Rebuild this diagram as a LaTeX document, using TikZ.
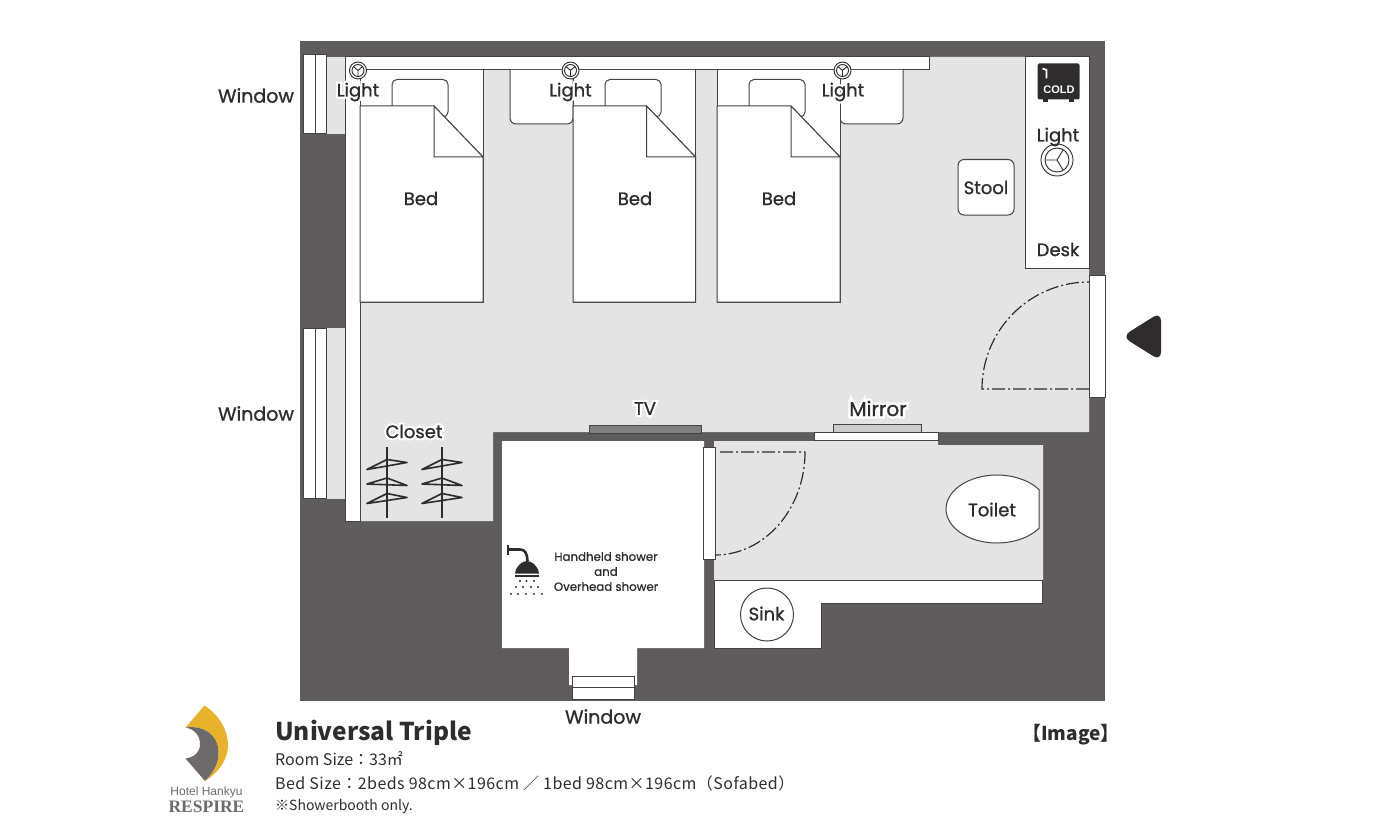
\documentclass[tikz,border=0pt]{standalone}
\usepackage{fontspec}
\setmainfont{Poppins}
\newfontfamily\jpfont{Noto Sans CJK JP}
\newfontfamily\jpwidefont[LetterSpace=2.8]{Noto Sans CJK JP}
\newfontfamily\coldfont{Liberation Sans}
\newfontfamily\logofont{Liberation Serif}
\usetikzlibrary{calc}
\definecolor{wallc}{HTML}{5E5C5D}
\definecolor{floorc}{HTML}{E4E4E4}
\definecolor{inkc}{HTML}{2F2C2D}
\definecolor{linec}{HTML}{444243}
\definecolor{sunc}{HTML}{E8B32B}
\definecolor{logoc}{HTML}{6C6A6B}
\def\halotext#1{\makebox[0pt][l]{\addfontfeature{FakeBold=25}\color{white}#1}#1}
\tikzset{
	plan/.style={draw=linec, line width=1pt, fill=white},
	swing/.style={draw=inkc, line width=1.2pt, dash pattern=on 13pt off 3pt on 2pt off 3pt},
	roomlabel/.style={inner sep=0pt, text=inkc, font=\fontsize{18}{18}\selectfont\addfontfeature{FakeBold=1}},
	lamp/.style={draw=inkc, line width=0.9pt},
	hangerbar/.style={draw=inkc, line width=2.4pt},
	hangerwire/.style={draw=inkc, line width=1.6pt, line join=round},
	infotext/.style={inner sep=0pt, anchor=west, text=inkc},
}
\begin{document}
\begin{tikzpicture}[x=1pt, y=-1pt]
	\useasboundingbox (0, 0) rectangle (1400, 840);

	%%%%% WALLS AND FLOOR %%%%%
	\fill[wallc] (300, 41) rectangle (1105, 701);
	\fill[floorc] (345, 57) -- (1089, 57) -- (1089, 432) -- (493, 432) -- (493, 521) -- (345, 521) -- cycle;
	\fill[floorc] (714, 441) -- (938, 441) -- (938, 445) -- (1043, 445) -- (1043, 580) -- (714, 580) -- cycle;
	\fill[floorc] (327, 57) rectangle (345, 134);
	\fill[floorc] (327, 328) rectangle (345, 499);

	\fill[white] (502, 441) -- (704, 441) -- (704, 648) -- (637, 648) -- (637, 685) -- (569, 685) -- (569, 648) -- (502, 648) -- cycle;

	\draw[plan] (714, 580) -- (1042, 580) -- (1042, 603) -- (821, 603) -- (821, 648) -- (714, 648) -- cycle;
	\draw[plan] (345, 57) -- (929, 57) -- (929, 70) -- (360, 70) -- (360, 521) -- (345, 521) -- cycle;
	\draw[plan] (1025.5, 57) -- (1089, 57) -- (1089, 268.5) -- (1025.5, 268.5) -- cycle;

	%%%%% WINDOWS AND DOORS %%%%%
	\draw[plan] (303.5, 54.5) rectangle (315, 133.5);
	\draw[plan] (315, 54.5) rectangle (326, 133.5);
	\draw[plan] (303.5, 328.5) rectangle (315, 498.5);
	\draw[plan] (315, 328.5) rectangle (326, 498.5);
	\draw[plan] (572, 676) rectangle (634, 687);
	\draw[plan] (572, 687) rectangle (634, 699);

	\draw[plan] (1089, 275) rectangle (1105, 397);
	\draw[swing] (1089, 389) -- (982, 389) arc (180:270:107);
	\draw[plan] (703, 447) rectangle (715, 559);
	\draw[swing] (720, 452) -- (805, 452) arc (0:90:90 and 103);

	\draw[plan, fill=black!50] (589, 425) rectangle (701, 433);
	\draw[plan, fill=black!20] (833, 424) rectangle (921, 432);
	\draw[plan] (814.5, 432) rectangle (938, 440);

	%%%%% NIGHT TABLES, PILLOWS, BEDS %%%%%
	\draw[plan] (510, 70) -- (510, 118) [rounded corners=6pt] -- (510, 124) -- (573, 124) [sharp corners] -- (573, 70);
	\draw[plan] (903, 70) [rounded corners=6pt] -- (903, 124) -- (840, 124) [sharp corners] -- (840, 70);

	\draw[plan] (360, 70) rectangle (483, 302);
	\draw[plan, rounded corners=5pt] (392, 106) -- (392, 79.5) -- (448, 79.5) -- (448, 117) -- (440, 117);
	\draw[plan] (360, 106) -- (434, 106) -- (483, 157) -- (483, 302) -- (360, 302) -- cycle;
	\draw[plan] (434, 106) -- (434, 157) -- (483, 157) -- cycle;

	\draw[plan] (573, 70) rectangle (695.5, 302);
	\draw[plan, rounded corners=5pt] (605, 106) -- (605, 79.5) -- (661, 79.5) -- (661, 117) -- (653, 117);
	\draw[plan] (573, 106) -- (646.5, 106) -- (695.5, 157) -- (695.5, 302) -- (573, 302) -- cycle;
	\draw[plan] (646.5, 106) -- (646.5, 157) -- (695.5, 157) -- cycle;

	\draw[plan] (717, 70) rectangle (840, 302);
	\draw[plan, rounded corners=5pt] (749, 106) -- (749, 79.5) -- (805, 79.5) -- (805, 117) -- (797, 117);
	\draw[plan] (717, 106) -- (791, 106) -- (840, 157) -- (840, 302) -- (717, 302) -- cycle;
	\draw[plan] (791, 106) -- (791, 157) -- (840, 157) -- cycle;

	%%%%% LIGHTS %%%%%
	\draw[lamp, fill=white] (358, 70.5) circle (8.5);
	\draw[lamp] (358, 70.5) circle (6);
	\draw[lamp] (358, 70.5) -- ++(-4.5, -4) (358, 70.5) -- ++(4.5, -4) (358, 70.5) -- ++(0, 6);

	\draw[lamp, fill=white] (570.5, 70.5) circle (8.5);
	\draw[lamp] (570.5, 70.5) circle (6);
	\draw[lamp] (570.5, 70.5) -- ++(-4.5, -4) (570.5, 70.5) -- ++(4.5, -4) (570.5, 70.5) -- ++(0, 6);

	\draw[lamp, fill=white] (842.5, 70.5) circle (8.5);
	\draw[lamp] (842.5, 70.5) circle (6);
	\draw[lamp] (842.5, 70.5) -- ++(-4.5, -4) (842.5, 70.5) -- ++(4.5, -4) (842.5, 70.5) -- ++(0, 6);

	\draw[lamp, fill=white] (1057, 160) circle (16);
	\draw[lamp] (1057, 160) circle (12);
	\draw[lamp] (1057, 160) -- ++(-12, 0) (1057, 160) -- ++(6, -10) (1057, 160) -- ++(6, 10);

	%%%%% FRIDGE, STOOL, SINK, TOILET %%%%%
	\fill[inkc, rounded corners=1.5pt] (1037.5, 63.5) rectangle (1079.5, 99.5);
	\fill[inkc] (1043, 99) rectangle (1048, 102);
	\fill[inkc] (1069, 99) rectangle (1074, 102);
	\draw[white, line width=1.8pt] (1042.5, 68.5) -- (1046.5, 70) -- (1046.5, 78.5);

	\draw[plan, rounded corners=6pt] (958, 159.5) rectangle (1014, 215);
	\draw[plan] (767, 614.5) circle (26.5);
	\draw[plan] (1039, 489.7) arc (-34.6:-325.4:51 and 34) -- cycle;

	%%%%% CLOSET %%%%%
	\draw[hangerbar] (387, 447) -- (387, 518);
	\draw[hangerwire] (367, 469.5) -- (387, 459.5) -- (407, 462.5) -- cycle;
	\draw[hangerwire] (367, 484) -- (387, 478) -- (407, 485.5) -- cycle;
	\draw[hangerwire] (367, 503.5) -- (387, 493.5) -- (407, 497.5) -- cycle;
	\draw[hangerbar] (442, 447) -- (442, 518);
	\draw[hangerwire] (422, 469.5) -- (442, 459.5) -- (462, 462.5) -- cycle;
	\draw[hangerwire] (422, 484) -- (442, 478) -- (462, 485.5) -- cycle;
	\draw[hangerwire] (422, 503.5) -- (442, 493.5) -- (462, 497.5) -- cycle;

	%%%%% SHOWER %%%%%
	\fill[inkc] (506.5, 545) rectangle (509, 555);
	\draw[inkc, line width=2.6pt] (509, 549.5) -- (520, 549.5) .. controls (525, 549.5) and (527, 553) .. (527.5, 561);
	\fill[inkc] (515, 573.5) .. controls (516, 566) and (522, 561) .. (527, 561) .. controls (532, 561) and (538, 566) .. (539, 573.5) -- cycle;
	\fill[inkc] (515, 575) rectangle (539, 576.5);
	\fill[inkc] (520, 581) circle (1.2) (526.5, 581) circle (1.2) (534, 581) circle (1.2);
	\fill[inkc] (516, 587) circle (1.2) (523, 587) circle (1.2) (531, 587) circle (1.2) (538, 587) circle (1.2);
	\fill[inkc] (511, 594) circle (1.2) (518, 594) circle (1.2) (526, 594) circle (1.2) (534, 594) circle (1.2) (542, 594) circle (1.2);

	%%%%% ENTRANCE MARK %%%%%
	\fill[inkc, rounded corners=9pt] (1161, 312) -- (1122, 336.5) -- (1161, 361) -- cycle;

	%%%%% LOGO %%%%%
	\fill[sunc] (204.5, 705.5) .. controls (219, 715) and (228, 730) .. (228, 745) .. controls (228, 760) and (218, 773) .. (205, 781) .. controls (213, 773) and (219, 763) .. (218.5, 752) .. controls (218, 735) and (204, 725) .. (185.5, 727.5) -- cycle;
	\fill[logoc] (185.5, 727.5) .. controls (204, 725) and (218, 735) .. (218.5, 752) .. controls (219, 763) and (213, 773) .. (205, 781) -- (185.5, 758.5) .. controls (195, 757) and (200, 752) .. (200, 744) .. controls (200, 735) and (194, 729) .. (185.5, 727.5) -- cycle;
	\node[inner sep=0pt, text=logoc, font=\coldfont\fontsize{12}{12}\selectfont] (logohotel) at (206.5, 792) {Hotel Hankyu};
	\node[inner sep=0pt, text=logoc, font=\logofont\bfseries\fontsize{17.5}{18}\selectfont] (logoname) at (206.5, 807) {RESPIRE};

	%%%%% LABELS %%%%%
	\node[roomlabel, font=\fontsize{19}{19}\selectfont\addfontfeature{FakeBold=1}] (windowa) at (256, 95.5) {Window};
	\node[roomlabel, font=\fontsize{19}{19}\selectfont\addfontfeature{FakeBold=1}] (windowb) at (256, 413.5) {Window};
	\node[roomlabel, font=\fontsize{19}{19}\selectfont\addfontfeature{FakeBold=1}] (windowc) at (603, 716.5) {Window};
	\node[roomlabel] (lighta) at (358, 92) {\halotext{Light}};
	\node[roomlabel] (lightb) at (570.5, 92) {\halotext{Light}};
	\node[roomlabel] (lightc) at (843, 92) {\halotext{Light}};
	\node[roomlabel] (lightd) at (1058, 137) {Light};
	\node[roomlabel] (beda) at (421, 198.5) {Bed};
	\node[roomlabel] (bedb) at (635, 198.5) {Bed};
	\node[roomlabel] (bedc) at (779, 198.5) {Bed};
	\node[roomlabel] (stool) at (986, 187.5) {Stool};
	\node[roomlabel] (desk) at (1058, 249.5) {Desk};
	\node[roomlabel] (closet) at (414, 431.5) {\halotext{Closet}};
	\node[roomlabel] (tv) at (645, 408.5) {\halotext{TV}};
	\node[roomlabel, font=\fontsize{20}{20}\selectfont\addfontfeature{FakeBold=1}] (mirror) at (878, 408.5) {\halotext{Mirror}};
	\node[roomlabel] (toilet) at (992, 509.5) {Toilet};
	\node[roomlabel] (sink) at (766.5, 613.5) {Sink};
	\node[inner sep=0pt, text=white, font=\coldfont\bfseries\fontsize{11}{12}\selectfont] (cold) at (1059, 90) {COLD};
	\node[roomlabel, align=center, font=\fontsize{11.8}{15}\selectfont\addfontfeature{FakeBold=1}] (shower) at (606, 571.5) {Handheld shower\\and\\Overhead shower};

	%%%%% INFO %%%%%
	\node[infotext, font=\jpfont\bfseries\fontsize{24.5}{25}\selectfont] (roomname) at (275, 733) {Universal Triple};
	\node[infotext, font=\jpfont\fontsize{16}{16}\selectfont] (roomsize) at (275, 759) {Room Size：33㎡};
	\node[infotext, font=\jpwidefont\fontsize{16}{16}\selectfont] (bedsize) at (275, 783) {Bed Size：2beds 98cm×196cm ／ 1bed 98cm×196cm（Sofabed）};
	\node[infotext, font=\jpfont\fontsize{14}{14}\selectfont] (booth) at (275, 807) {※Showerbooth only.};
	\node[infotext, font=\jpfont\bfseries\fontsize{19}{19}\selectfont] (image) at (1022, 735) {【Image】};
\end{tikzpicture}
\end{document}
